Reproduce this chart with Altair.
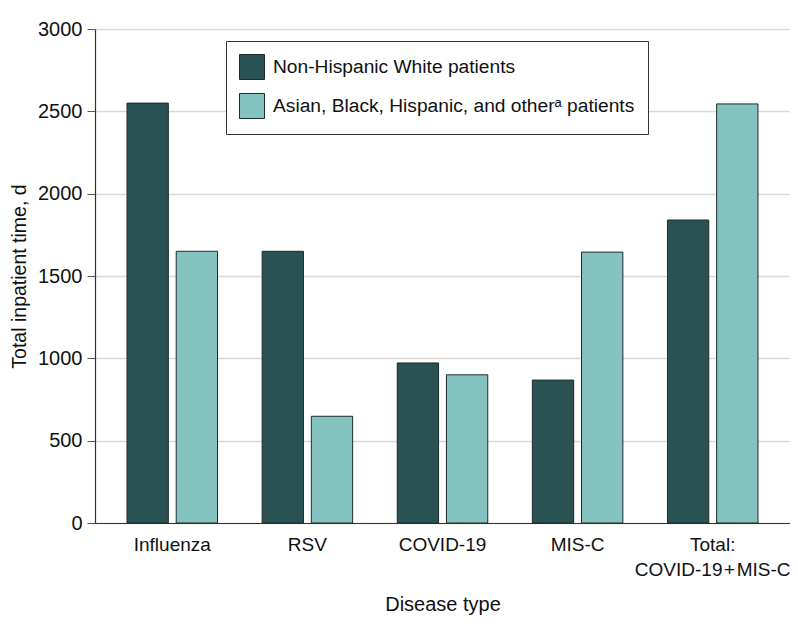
import altair as alt
import pandas as pd

categories = ["Influenza", "RSV", "COVID-19", "MIS-C", "Total:\nCOVID-19\u200a+\u200aMIS-C"]
groups = ["Non-Hispanic White patients", "Asian, Black, Hispanic, and other\u1d43 patients"]
white_values = [2550, 1650, 972, 868, 1840]
other_values = [1650, 648, 900, 1645, 2545]
y_ticks = [0, 500, 1000, 1500, 2000, 2500, 3000]

rows = []
for c, w, o in zip(categories, white_values, other_values):
    rows.append({"disease": c, "group": groups[0], "days": w})
    rows.append({"disease": c, "group": groups[1], "days": o})
df = pd.DataFrame(rows)

FONT = "Liberation Sans"

chart = alt.Chart(df).mark_bar(stroke="#1e2b2b", strokeWidth=1).encode(
    x=alt.X("disease:N", sort=categories, title="Disease type",
            scale=alt.Scale(paddingInner=0.33, paddingOuter=0.237),
            axis=alt.Axis(labelAngle=0, ticks=False, labelPadding=12,
                          labelFontSize=19,
                          labelExpr="split(datum.label, '\\n')",
                          labelLineHeight=25, domainColor="#333333",
                          domainWidth=1.2, titlePadding=15)),
    xOffset=alt.XOffset("group:N", sort=groups,
                        scale=alt.Scale(paddingInner=0.16, paddingOuter=0)),
    y=alt.Y("days:Q", title="Total inpatient time, d",
            scale=alt.Scale(domain=[0, 3000], nice=False),
            axis=alt.Axis(values=y_ticks, format="d", tickSize=8, tickColor="#555555",
                          domainColor="#333333", domainWidth=1.2,
                          gridColor="#d9d9d9", gridWidth=1.5,
                          titleFontSize=19.5,
                          labelPadding=5, titlePadding=8)),
    color=alt.Color("group:N", sort=groups,
                    scale=alt.Scale(domain=groups, range=["#2b5252", "#85c3c1"]),
                    legend=alt.Legend(title=None, orient="none", legendX=131, legendY=12,
                                      strokeColor="#333333", fillColor="white",
                                      padding=13, symbolType="square", symbolSize=625,
                                      symbolStrokeColor="#1e2b2b", symbolStrokeWidth=1,
                                      symbolOpacity=1,
                                      labelFontSize=19.2, labelOffset=8, rowPadding=9,
                                      labelFont=FONT, labelColor="#111111", labelLimit=500)),
).properties(
    width=695, height=494,
    autosize=alt.AutoSizeParams(type="none"),
    padding={"left": 87, "top": 21, "right": 0, "bottom": 100},
).configure_view(stroke=None).configure_axis(
    labelFont=FONT, titleFont=FONT, labelFontSize=20, titleFontSize=20,
    labelColor="#111111", titleColor="#111111", titleFontWeight="normal",
)

chart.save("out.html", embed_options={"renderer": "svg", "actions": False})
